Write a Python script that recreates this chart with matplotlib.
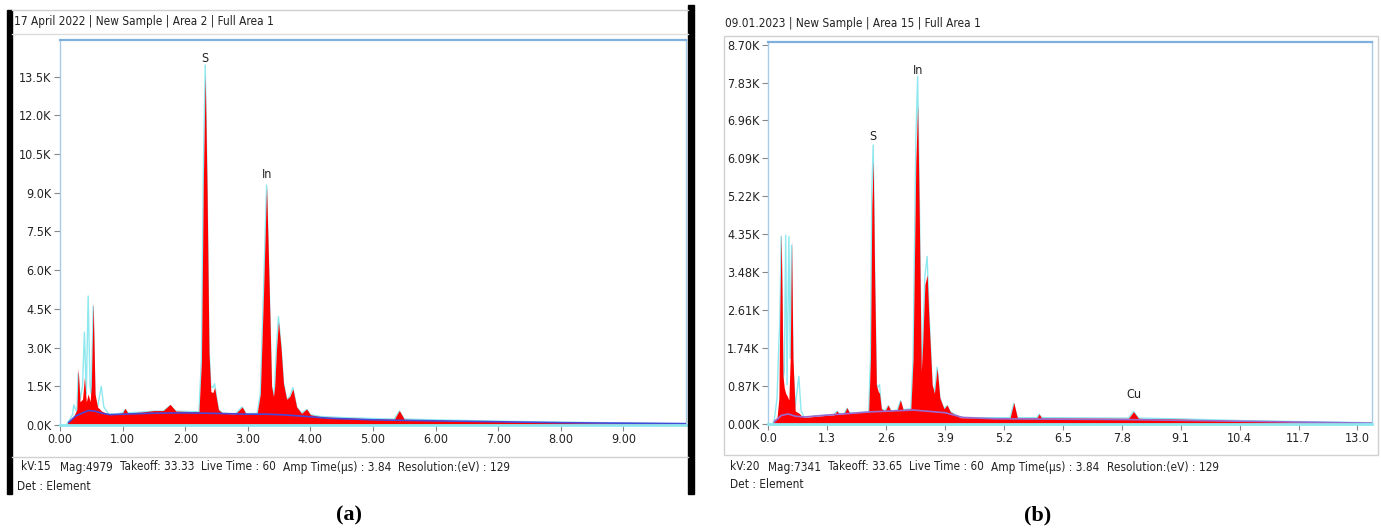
import matplotlib
matplotlib.use("Agg")
import matplotlib.pyplot as plt
from matplotlib import font_manager as fm
from matplotlib.lines import Line2D
from matplotlib.patches import Rectangle

W, H = 1381, 528

# narrow face if one is around, otherwise plain DejaVu
stretch = 'normal'
for fam in ['Liberation Sans Narrow', 'DejaVu Sans']:
    try:
        path = fm.findfont(fm.FontProperties(family=fam, stretch='condensed'), fallback_to_default=False)
        if 'Narrow' in path or 'Condensed' in path:
            plt.rcParams['font.family'] = [fam, 'DejaVu Sans']
            stretch = 'condensed'
            break
    except ValueError:
        pass
else:
    plt.rcParams['font.family'] = ['DejaVu Sans']
plt.rcParams['font.stretch'] = stretch

# ---- panel (a) spectrum: energy (keV), counts (red fill), counts (cyan trace)
energy_a = [0.10, 0.14, 0.20, 0.22, 0.27, 0.29, 0.32, 0.36, 0.39, 0.42, 0.45, 0.48, 0.50, 0.53,
            0.56, 0.60, 0.66, 0.70, 0.78, 0.90, 1.00, 1.04, 1.08, 1.30, 1.50, 1.65, 1.76, 1.85,
            2.10, 2.22, 2.26, 2.29, 2.32, 2.35, 2.38, 2.41, 2.44, 2.47, 2.53, 2.60, 2.80,
            2.91, 2.97, 3.15, 3.20, 3.25, 3.30, 3.34, 3.38, 3.41, 3.43, 3.46, 3.49, 3.53, 3.57,
            3.62, 3.67, 3.72, 3.78, 3.86, 3.94, 4.00, 4.16, 4.50, 5.00, 5.34, 5.42, 5.50, 6.00,
            7.00, 8.00, 9.00, 10.0]
red_a = [0, 150, 300, 350, 600, 2200, 900, 1000, 1850, 900, 1200, 900, 1500, 4750,
         1200, 700, 550, 500, 420, 430, 470, 650, 470, 500, 560, 560, 800, 540,
         520, 520, 2500, 9500, 13550, 9000, 2800, 1300, 1250, 1450, 600, 450, 430,
         700, 440, 450, 1200, 5000, 9250, 5500, 1500, 1100, 1500, 3000, 4000, 3000, 1600,
         1000, 1100, 1400, 700, 450, 620, 400, 320, 280, 240, 220, 560, 220, 190,
         140, 100, 70, 50]
cyan_a = [0, 150, 400, 780, 500, 2000, 1000, 1500, 3600, 1200, 5000, 1500, 1200, 4600,
          900, 700, 1500, 700, 420, 430, 470, 600, 470, 500, 540, 540, 750, 540,
          520, 520, 2600, 9900, 13950, 9300, 3000, 1500, 1450, 1600, 600, 450, 430,
          700, 440, 450, 1200, 5100, 9300, 5600, 1500, 1100, 1550, 3100, 4200, 3100, 1650,
          1000, 1100, 1450, 700, 450, 600, 400, 330, 290, 250, 230, 540, 230, 200,
          150, 110, 80, 60]
bg_energy_a = [0.14, 0.25, 0.45, 0.55, 0.65, 0.80, 1.0, 1.5, 2.0, 2.5, 3.0, 3.3, 3.6, 4.0, 4.3, 5.0, 6.0, 8.0, 10.0]
bg_a = [100, 350, 560, 540, 470, 400, 420, 460, 470, 450, 420, 420, 390, 320, 260, 200, 160, 90, 50]

# ---- panel (b) spectrum
energy_b = [0.10, 0.14, 0.20, 0.24, 0.26, 0.29, 0.31, 0.33, 0.36, 0.39, 0.42, 0.46, 0.49, 0.52, 0.55,
            0.60, 0.68, 0.73, 0.80, 1.00, 1.30, 1.45, 1.52, 1.58, 1.68, 1.74, 1.80, 2.10, 2.22,
            2.26, 2.29, 2.32, 2.35, 2.39, 2.43, 2.46, 2.50, 2.58, 2.65, 2.71, 2.85, 2.92, 2.98,
            3.15, 3.20, 3.26, 3.30, 3.34, 3.38, 3.41, 3.46, 3.51, 3.55, 3.62, 3.67, 3.73, 3.79,
            3.88, 3.95, 4.02, 4.24, 4.60, 5.00, 5.34, 5.42, 5.50, 5.93, 5.98, 6.03, 7.00, 7.95,
            8.06, 8.17, 9.00, 10.4, 11.7, 13.3]
red_b = [0, 100, 150, 600, 2500, 4370, 3000, 1100, 820, 700, 650, 550, 1500, 4220, 1500,
         300, 250, 200, 150, 170, 200, 210, 300, 220, 240, 375, 250, 270, 280,
         1500, 5000, 6050, 3500, 900, 750, 700, 350, 300, 436, 300, 320, 550, 330,
         350, 1500, 6000, 7320, 4500, 1200, 1800, 3200, 3420, 2400, 900, 700, 1280, 600,
         350, 436, 280, 145, 140, 140, 140, 490, 140, 140, 230, 140, 135, 130,
         282, 130, 115, 76, 50, 25]
cyan_b = [0, 100, 600, 1900, 2300, 4300, 2800, 1000, 1200, 4330, 900, 4300, 1500, 4100, 1300,
          400, 1090, 300, 150, 180, 210, 220, 290, 230, 240, 360, 250, 270, 280,
          1500, 5300, 6400, 3700, 900, 850, 900, 350, 300, 420, 300, 320, 530, 330,
          350, 1500, 6500, 7970, 5000, 1200, 1800, 3400, 3840, 2600, 900, 700, 1300, 600,
          350, 420, 280, 150, 145, 145, 145, 470, 145, 145, 220, 145, 140, 135,
          290, 135, 120, 80, 55, 30]
bg_energy_b = [0.14, 0.30, 0.45, 0.60, 0.80, 1.5, 2.3, 3.2, 3.9, 4.3, 5.0, 8.0, 13.3]
bg_b = [50, 200, 230, 180, 160, 220, 280, 320, 260, 150, 120, 100, 20]

# ---- ticks and labels
yticks_a = [0, 1500, 3000, 4500, 6000, 7500, 9000, 10500, 12000, 13500]
ylabels_a = ['0.0K', '1.5K', '3.0K', '4.5K', '6.0K', '7.5K', '9.0K', '10.5K', '12.0K', '13.5K']
xticks_a = [0, 1, 2, 3, 4, 5, 6, 7, 8, 9]
xlabels_a = ['0.00', '1.00', '2.00', '3.00', '4.00', '5.00', '6.00', '7.00', '8.00', '9.00']
yticks_b = [0, 870, 1740, 2610, 3480, 4350, 5220, 6090, 6960, 7830, 8700]
ylabels_b = ['0.00K', '0.87K', '1.74K', '2.61K', '3.48K', '4.35K', '5.22K', '6.09K', '6.96K', '7.83K', '8.70K']
xticks_b = [0, 1.3, 2.6, 3.9, 5.2, 6.5, 7.8, 9.1, 10.4, 11.7, 13.0]
xlabels_b = ['0.0', '1.3', '2.6', '3.9', '5.2', '6.5', '7.8', '9.1', '10.4', '11.7', '13.0']

peaks_a = [('S', 2.32, 13950), ('In', 3.30, 9450)]
peaks_b = [('S', 2.32, 6450), ('In', 3.30, 7960), ('Cu', 8.06, 530)]

header_a = '17 April 2022 | New Sample | Area 2 | Full Area 1'
header_b = '09.01.2023 | New Sample | Area 15 | Full Area 1'
footer_a = ['kV:15', 'Mag:4979', 'Takeoff: 33.33', 'Live Time : 60', 'Amp Time(\u00b5s) : 3.84', 'Resolution:(eV) : 129']
footer_b = ['kV:20', 'Mag:7341', 'Takeoff: 33.65', 'Live Time : 60', 'Amp Time(\u00b5s) : 3.84', 'Resolution:(eV) : 129']
footer_x_a = [21, 60, 117, 191, 264, 355]
footer_x_b = [730, 768, 824, 893, 964, 1060]

FS = 8.5 if stretch == 'condensed' else 8
TXT = '#222222'

fig = plt.figure(figsize=(W / 100, H / 100), dpi=100)
renderer = fig.canvas.get_renderer()


def box(x0, y0, x1, y1):
    # pixel box (top-left origin) -> figure fraction rect
    return [x0 / W, 1 - y1 / H, (x1 - x0) / W, (y1 - y0) / H]


def hline(x0, x1, y, color, lw=1):
    fig.add_artist(Line2D([x0 / W, x1 / W], [1 - y / H, 1 - y / H], color=color, lw=lw))


def spectrum(ax, e, red, cyan, be, bg, bgcol, xlim, ylim):
    ax.fill_between(e, red, 0, color='#ff0000', lw=0, zorder=2)
    ax.plot(e, cyan, color='#8ee8f0', lw=1.0, zorder=1)
    ax.plot(be, bg, color=bgcol, lw=1.2, zorder=3)
    ax.plot([0, xlim], [0, 0], color='#8ee8f0', lw=2, zorder=4, clip_on=False)
    ax.set_xlim(0, xlim)
    ax.set_ylim(0, ylim)
    for s in ax.spines.values():
        s.set_color('#a8cce8')
        s.set_linewidth(1.0)
    ax.spines['top'].set_color('#7fb0dc')
    ax.spines['top'].set_linewidth(1.6)
    ax.tick_params(length=4, width=0.8, color='#888888', labelsize=9, labelcolor=TXT, pad=2)


def footer_row(items, xs, y):
    # keep the reference start positions but never let two items run into each other
    prev_end = 0
    for x, t in zip(xs, items):
        x = max(x, prev_end + 7)
        tx = fig.text(x / W, 1 - y / H, t, fontsize=FS, va='center', ha='left', color=TXT)
        prev_end = tx.get_window_extent(renderer).x1


# panel (a)
ax1 = fig.add_axes(box(60, 40, 686, 425))
spectrum(ax1, energy_a, red_a, cyan_a, bg_energy_a, bg_a, '#4848d8', 10.0, 14920)
ax1.set_yticks(yticks_a, ylabels_a)
ax1.set_xticks(xticks_a, xlabels_a)
for name, x, y in peaks_a:
    ax1.text(x, y, name, ha='center', va='bottom', fontsize=9, color=TXT)

# panel (b)
ax2 = fig.add_axes(box(768, 42, 1372, 424))
spectrum(ax2, energy_b, red_b, cyan_b, bg_energy_b, bg_b, '#9a6ad0', 13.32, 8760)
ax2.set_yticks(yticks_b, ylabels_b)
ax2.set_xticks(xticks_b, xlabels_b)
for name, x, y in peaks_b:
    ax2.text(x, y, name, ha='center', va='bottom', fontsize=9, color=TXT)

# frames around panel (a)
fig.add_artist(Rectangle((7 / W, 1 - 494 / H), 5 / W, 484 / H, color='black', transform=fig.transFigure))
fig.add_artist(Rectangle((688 / W, 1 - 494 / H), 6 / W, 489 / H, color='black', transform=fig.transFigure))
hline(12, 688, 10, '#d0d0d0')
hline(12, 688, 34, '#dcdcdc')
hline(12, 688, 457, '#d0d0d0')

# frame around panel (b)
fig.add_artist(Rectangle((724 / W, 1 - 455 / H), 654 / W, 419 / H, fill=False, ec='#d0d0d0', lw=1,
                         transform=fig.transFigure))

# headers
fig.text(14 / W, 1 - 21 / H, header_a, fontsize=FS, va='center', ha='left', color=TXT)
fig.text(725 / W, 1 - 23 / H, header_b, fontsize=FS, va='center', ha='left', color=TXT)

# footers
footer_row(footer_a, footer_x_a, 467)
fig.text(17 / W, 1 - 486 / H, 'Det : Element', fontsize=FS, va='center', ha='left', color=TXT)
footer_row(footer_b, footer_x_b, 467)
fig.text(730 / W, 1 - 484 / H, 'Det : Element', fontsize=FS, va='center', ha='left', color=TXT)

fig.text(349 / W, 1 - 515 / H, '(a)', fontsize=16, fontweight='bold', family='Liberation Serif',
         ha='center', va='center')
fig.text(1038 / W, 1 - 515 / H, '(b)', fontsize=16, fontweight='bold', family='Liberation Serif',
         ha='center', va='center')

fig.savefig('out.png', dpi=100)
